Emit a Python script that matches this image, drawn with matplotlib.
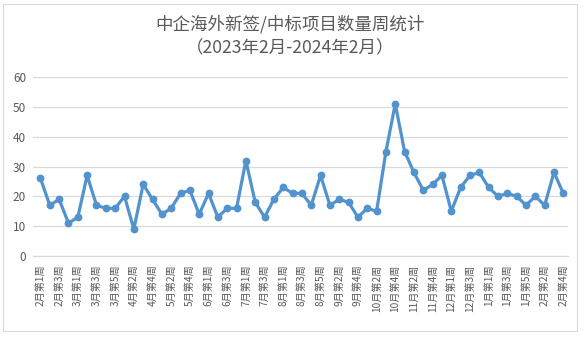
import matplotlib
matplotlib.use("Agg")
import matplotlib.pyplot as plt
from matplotlib.patches import Rectangle

plt.rcParams['font.family'] = ['Noto Sans CJK SC', 'DejaVu Sans']

weeks = ["2月第1周", "2月第2周", "2月第3周", "2月第4周",
         "3月第1周", "3月第2周", "3月第3周", "3月第4周", "3月第5周",
         "4月第1周", "4月第2周", "4月第3周", "4月第4周",
         "5月第1周", "5月第2周", "5月第3周", "5月第4周", "5月第5周",
         "6月第1周", "6月第2周", "6月第3周", "6月第4周",
         "7月第1周", "7月第2周", "7月第3周", "7月第4周",
         "8月第1周", "8月第2周", "8月第3周", "8月第4周", "8月第5周",
         "9月第1周", "9月第2周", "9月第3周", "9月第4周",
         "10月第1周", "10月第2周", "10月第3周", "10月第4周",
         "11月第1周", "11月第2周", "11月第3周", "11月第4周", "11月第5周",
         "12月第1周", "12月第2周", "12月第3周", "12月第4周",
         "1月第1周", "1月第2周", "1月第3周", "1月第4周", "1月第5周",
         "2月第1周", "2月第2周", "2月第3周", "2月第4周"]
counts = [26, 17, 19, 11, 13, 27, 17, 16, 16, 20,
          9, 24, 19, 14, 16, 21, 22, 14, 21, 13,
          16, 16, 32, 18, 13, 19, 23, 21, 21, 17,
          27, 17, 19, 18, 13, 16, 15, 35, 51, 35,
          28, 22, 24, 27, 15, 23, 27, 28, 23, 20,
          21, 20, 17, 20, 17, 28, 21]
yticks = [0, 10, 20, 30, 40, 50, 60]
title_text = "中企海外新签/中标项目数量周统计\n（2023年2月-2024年2月）"

W, H = 584, 337
fig = plt.figure(figsize=(W / 100, H / 100), dpi=100)
fig.patch.set_facecolor('white')

# chart frame
fig.patches.append(Rectangle((3 / W, 1 - 331 / H), 574 / W, 327 / H,
                             transform=fig.transFigure, fill=False,
                             edgecolor='#D9D9D9', linewidth=0.8))

ax = fig.add_axes([33 / W, 1 - 256 / H, 535 / W, 179 / H])
x = list(range(len(weeks)))
ax.plot(x, counts, color='#5293CE', linewidth=2.3, marker='o',
        markersize=4.6, markerfacecolor='#5293CE', markeredgecolor='#5293CE',
        zorder=3)

ax.set_xlim(-0.8, 56.5)
ax.set_ylim(0, 60)
ax.set_yticks(yticks)
ax.set_yticklabels([str(v) for v in yticks])
ax.yaxis.grid(True, color='#D9D9D9', linewidth=0.9)
ax.set_axisbelow(True)
for s in ['top', 'right', 'left']:
    ax.spines[s].set_visible(False)
ax.spines['bottom'].set_color('#D9D9D9')
ax.spines['bottom'].set_linewidth(0.9)

ax.set_xticks(x[::2])
ax.set_xticklabels(weeks[::2], rotation=90, va='top', ha='center')
ax.tick_params(axis='x', length=0, pad=6, labelsize=7.3, labelcolor='#595959')
ax.tick_params(axis='y', length=0, pad=5, labelsize=8.5, labelcolor='#595959')

fig.text(0.497, 1 - 15 / H, title_text, ha='center', va='top',
         fontsize=12.6, color='#595959', linespacing=1.4)

fig.savefig("out.png", dpi=100, facecolor='white')
